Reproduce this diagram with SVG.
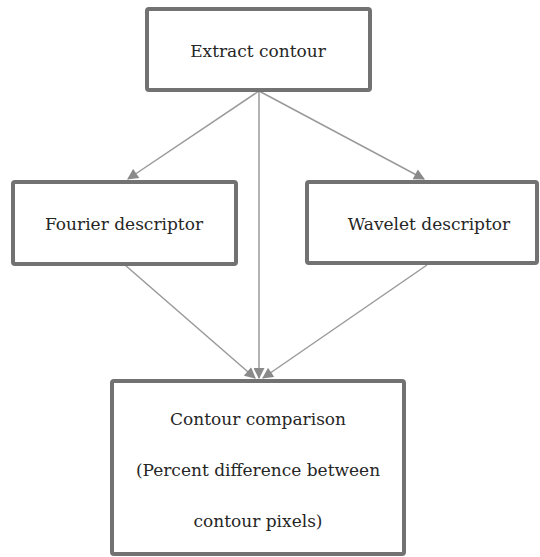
<svg xmlns="http://www.w3.org/2000/svg" width="540" height="557" viewBox="0 0 540 557">
<style>
.box{fill:#fff;stroke:#727272;stroke-width:4}
.t{font-family:"DejaVu Serif","Liberation Serif",serif;font-size:17px;fill:#262626;text-anchor:middle}
.c{stroke:#9a9a9a;stroke-width:1.5;fill:none}
</style>
<defs>
<marker id="ah" viewBox="0 0 10 10" refX="9" refY="5" markerWidth="12" markerHeight="11" markerUnits="userSpaceOnUse" orient="auto">
<path d="M0,0 L10,5 L0,10 z" fill="#8a8a8a"/>
</marker>
</defs>
<rect width="540" height="557" fill="#fff"/>
<g id="connectors">
<line class="c" x1="259" y1="91" x2="128" y2="179" marker-end="url(#ah)"/>
<line class="c" x1="259" y1="91" x2="424" y2="179" marker-end="url(#ah)"/>
<line class="c" x1="259" y1="91" x2="259" y2="378" marker-end="url(#ah)"/>
<line class="c" x1="125" y1="265" x2="255" y2="378" marker-end="url(#ah)"/>
<line class="c" x1="427" y1="265" x2="263" y2="378" marker-end="url(#ah)"/>
</g>
<g id="extract">
<rect class="box" x="147" y="9" width="223" height="81" rx="2"/>
<text class="t" x="258" y="57">Extract contour</text>
</g>
<g id="fourier">
<rect class="box" x="13" y="182" width="223" height="82" rx="2"/>
<text class="t" x="124" y="230">Fourier descriptor</text>
</g>
<g id="wavelet">
<rect class="box" x="307" y="182" width="230" height="81" rx="2"/>
<text class="t" x="429" y="230">Wavelet descriptor</text>
</g>
<g id="comparison">
<rect class="box" x="112" y="381" width="292" height="173" rx="2"/>
<text class="t" x="258" y="425">Contour comparison</text>
<text class="t" x="258" y="476">(Percent difference between</text>
<text class="t" x="258" y="527">contour pixels)</text>
</g>
</svg>
